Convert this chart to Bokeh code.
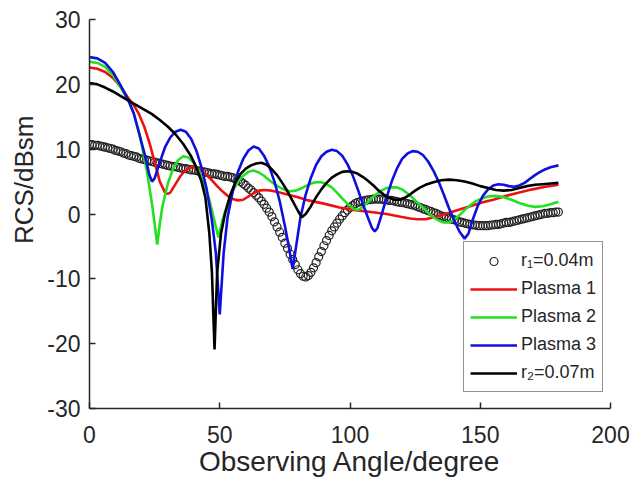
from bokeh.plotting import figure
from bokeh.models import Range1d, FixedTicker, Legend, LegendItem, Title
from bokeh.embed import file_html
from bokeh.resources import INLINE

# ---- data ----
x_r1 = list(range(0, 181))
y_r1 = [10.7, 10.7, 10.6, 10.6, 10.5, 10.4, 10.3, 10.2, 10.1, 10.0, 9.8,
        9.7, 9.6, 9.4, 9.3, 9.1, 9.0, 8.9, 8.8, 8.6, 8.5,
        8.4, 8.3, 8.2, 8.1, 8.0, 7.9, 7.8, 7.7, 7.6, 7.5,
        7.4, 7.3, 7.3, 7.2, 7.1, 7.0, 7.0, 6.9, 6.8, 6.8,
        6.7, 6.6, 6.5, 6.5, 6.4, 6.3, 6.2, 6.2, 6.1, 6.0,
        5.9, 5.8, 5.8, 5.7, 5.6, 5.4, 5.2, 5.0, 4.7, 4.4,
        4.0, 3.7, 3.3, 2.9, 2.5, 2.0, 1.5, 0.9, 0.3, -0.4,
        -1.2, -2.0, -2.8, -3.6, -4.5, -5.3, -6.2, -7.0, -7.8, -8.6,
        -9.2, -9.6, -9.7, -9.5, -9.0, -8.3, -7.5, -6.6, -5.8, -4.9,
        -4.1, -3.3, -2.6, -2.0, -1.4, -0.8, -0.3, 0.2, 0.6, 1.0,
        1.3, 1.6, 1.8, 1.9, 2.0, 2.1, 2.2, 2.2, 2.3, 2.3,
        2.3, 2.3, 2.2, 2.2, 2.1, 2.1, 2.0, 1.9, 1.8, 1.8,
        1.7, 1.6, 1.5, 1.4, 1.3, 1.1, 1.0, 0.8, 0.7, 0.5,
        0.4, 0.2, 0.1, -0.1, -0.3, -0.4, -0.5, -0.7, -0.8, -0.9,
        -1.0, -1.2, -1.3, -1.4, -1.5, -1.6, -1.7, -1.7, -1.8, -1.8,
        -1.8, -1.8, -1.8, -1.7, -1.7, -1.6, -1.6, -1.5, -1.4, -1.3,
        -1.3, -1.2, -1.1, -1.0, -0.9, -0.8, -0.7, -0.6, -0.5, -0.4,
        -0.3, -0.2, -0.1, 0.0, 0.1, 0.1, 0.2, 0.2, 0.3, 0.3]

x_p1 = [0, 3, 6, 9, 12, 15, 17, 19, 21, 23, 25, 27, 29, 30, 31, 33, 35, 37, 39, 41,
        43, 45, 47, 49, 51, 53, 55, 57, 59, 61, 63, 65, 67, 70, 73, 76, 80, 84, 90, 96,
        102, 108, 114, 119, 123, 126, 129, 132, 135, 139, 143, 147, 151, 155, 160, 165,
        170, 175, 180]
y_p1 = [22.6, 22.4, 21.9, 21.0, 19.6, 17.8, 16.8, 15.4, 13.5, 11.0, 8.0, 5.0, 3.3, 3.1,
        3.3, 4.6, 5.9, 6.8, 7.2, 7.1, 6.7, 6.0, 5.2, 4.3, 3.5, 2.8, 2.3, 2.1, 2.2, 2.7,
        3.2, 3.6, 3.7, 3.6, 3.3, 3.0, 2.6, 2.1, 1.6, 1.0, 0.6, 0.3, 0.0, -0.4, -0.7, -0.8,
        -0.8, -0.5, -0.2, 0.3, 0.8, 1.3, 1.8, 2.2, 2.8, 3.3, 3.8, 4.2, 4.5]

x_p2 = [0, 3, 6, 9, 12, 15, 17, 19, 21, 22.5, 24, 25, 26, 27, 28, 30, 32, 34, 36, 38,
        40, 42, 44, 46, 47.5, 49.5, 51, 53, 55, 57, 59, 61, 63, 65, 67, 69, 71, 73, 75,
        77, 79, 81, 83, 85, 87, 89, 91, 93, 95, 97, 99, 101, 102.5, 104, 106, 108, 110,
        112, 114, 116, 118, 120, 122, 124, 126, 128, 130, 132, 134, 136, 138, 140, 142,
        144, 146, 148, 150, 153, 156, 159, 162, 165, 168, 171, 174, 177, 180]
y_p2 = [23.5, 23.3, 22.7, 21.4, 19.5, 17.4, 15.5, 12.6, 8.8, 5.5, 1.5, -1.5, -4.7, -1.5,
        1.2, 4.6, 6.9, 8.3, 8.9, 8.7, 7.9, 6.6, 4.6, 2.2, -0.3, -3.6, -1.0, 1.6, 3.6, 5.0,
        5.9, 6.5, 6.7, 6.4, 5.9, 5.2, 4.6, 4.1, 3.7, 3.5, 3.6, 3.9, 4.3, 4.7, 4.9, 4.9,
        4.6, 4.1, 3.3, 2.4, 1.6, 0.9, 0.6, 0.8, 1.5, 2.3, 3.0, 3.6, 4.0, 4.1, 4.1, 3.8,
        3.2, 2.5, 1.7, 1.0, 0.2, -0.5, -1.0, -1.3, -1.3, -0.9, -0.2, 0.6, 1.3, 1.9, 2.3,
        2.7, 2.8, 2.6, 2.2, 1.7, 1.3, 1.1, 1.2, 1.5, 1.9]

x_p3 = [0, 3, 6, 9, 12, 15, 17, 19, 21, 23, 24, 25, 27, 29, 31, 33, 35, 37, 39, 41, 43,
        45, 47, 48.5, 50, 51.5, 53, 55, 57, 59, 61, 63, 65, 67, 69, 71, 73, 75, 76.5, 78,
        79.5, 81, 83, 85, 87, 89, 91, 93, 95, 97, 99, 101, 103, 105, 107, 108.5, 109.5,
        110.5, 112, 114, 116, 118, 120, 122, 124, 126, 128, 130, 132, 134, 136, 138, 140,
        142, 144, 145.5, 147, 149, 151, 153, 155, 157, 159, 161, 163, 165, 167, 169, 171,
        173, 175, 177, 180]
y_p3 = [24.2, 24.0, 23.3, 21.9, 19.8, 17.5, 15.5, 12.5, 9.5, 6.0, 5.0, 5.5, 8.0, 10.3,
        11.8, 12.7, 13.0, 12.7, 11.6, 9.8, 7.2, 3.8, -1.0, -6.0, -15.5, -6.0, -0.5, 3.5,
        6.5, 8.5, 9.8, 10.4, 10.1, 9.0, 7.3, 5.0, 2.0, -1.8, -5.0, -8.5, -4.5, -0.5, 3.0,
        5.6, 7.6, 8.9, 9.6, 9.9, 9.7, 9.0, 7.7, 6.0, 3.8, 1.5, -0.7, -2.2, -2.7, -2.2,
        -0.3, 2.5, 5.0, 7.0, 8.5, 9.3, 9.7, 9.6, 9.1, 8.1, 6.7, 5.0, 3.0, 0.9, -1.0, -2.7,
        -3.8, -3.0, -1.0, 1.2, 2.8, 3.8, 4.4, 4.6, 4.5, 4.3, 4.2, 4.4, 4.8, 5.4, 6.0, 6.5,
        6.9, 7.2, 7.5]

x_r2 = [0, 3, 6, 9, 12, 15, 18, 21, 24, 27, 30, 33, 36, 39, 41, 43, 44.5, 46, 47, 48,
        49, 50.5, 52, 54, 56, 58, 60, 62, 64, 66, 68, 70, 72, 74, 76, 78, 80, 81.5, 83,
        85, 87, 89, 91, 93, 95, 97, 99, 101, 103, 105, 107, 109, 111, 113, 115, 117, 119,
        121, 123, 125, 127, 129, 132, 135, 138, 141, 144, 147, 150, 153, 156, 159, 162,
        165, 168, 171, 174, 177, 180]
y_r2 = [20.2, 20.0, 19.5, 18.9, 18.2, 17.5, 16.8, 16.1, 15.4, 14.5, 13.5, 12.3, 10.8,
        8.9, 7.2, 5.0, 2.5, -3.0, -9.0, -20.9, -9.0, -3.0, 0.0, 2.9, 4.9, 6.2, 7.0, 7.5,
        7.8, 7.9, 7.6, 6.9, 6.0, 4.8, 3.5, 2.0, 0.5, -0.5, 0.0, 1.2, 2.6, 3.8, 4.8, 5.6,
        6.1, 6.5, 6.6, 6.5, 6.2, 5.7, 5.1, 4.4, 3.6, 3.0, 2.5, 2.2, 2.2, 2.5, 3.0, 3.6,
        4.1, 4.5, 4.9, 5.2, 5.3, 5.2, 5.0, 4.7, 4.3, 4.0, 3.7, 3.6, 3.7, 4.0, 4.3, 4.5,
        4.6, 4.7, 4.8]

x_ticks = [0, 50, 100, 150, 200]
y_ticks = [-30, -20, -10, 0, 10, 20, 30]
y_tick_text = {t: str(t) for t in y_ticks}
labels = ["r\u2081=0.04m", "Plasma 1", "Plasma 2", "Plasma 3", "r\u2082=0.07m"]
x_title = "Observing Angle/degree"
y_title = "RCS/dBsm"

FONT = "Liberation Sans"
TXT = "#262626"

p = figure(width=635, height=483, x_range=Range1d(0, 200), y_range=Range1d(-30, 30),
           output_backend="svg", toolbar_location=None,
           min_border_left=89, min_border_right=25, min_border_top=19, min_border_bottom=75)
p.outline_line_color = None
p.grid.visible = False
p.background_fill_color = "white"
p.border_fill_color = "white"

for ax, ticks in ((p.xaxis[0], x_ticks), (p.yaxis[0], y_ticks)):
    ax.ticker = FixedTicker(ticks=ticks)
    ax.axis_line_color = TXT
    ax.axis_line_width = 1.5
    ax.major_tick_line_color = TXT
    ax.major_tick_line_width = 1.5
    ax.major_tick_in = 6
    ax.major_tick_out = 0
    ax.minor_tick_line_color = None
    ax.major_label_text_font = FONT
    ax.major_label_text_font_size = "23px"
    ax.major_label_text_color = TXT

p.yaxis.major_label_overrides = y_tick_text
p.xaxis.major_label_standoff = 17
p.yaxis.major_label_standoff = 9

p.xaxis.axis_label = x_title
p.xaxis.axis_label_text_font = FONT
p.xaxis.axis_label_text_font_size = "28px"
p.xaxis.axis_label_text_font_style = "normal"
p.xaxis.axis_label_text_color = TXT
p.xaxis.axis_label_standoff = 0

p.add_layout(Title(text=y_title, align="right", offset=96, text_font=FONT,
                   text_font_size="26px", text_font_style="normal", text_color=TXT,
                   standoff=11), "left")

r0 = p.scatter(x_r1, y_r1, marker="circle", size=8, fill_color=None,
               line_color="#222222", line_width=1.2)
r1 = p.line(x_p1, y_p1, line_color="#ee1111", line_width=2.6)
r2 = p.line(x_p2, y_p2, line_color="#22e022", line_width=2.6)
r3 = p.line(x_p3, y_p3, line_color="#1010dd", line_width=2.6)
r4 = p.line(x_r2, y_r2, line_color="#000000", line_width=2.6)

legend = Legend(items=[LegendItem(label=labels[i], renderers=[r]) for i, r in
                       enumerate([r0, r1, r2, r3, r4])],
                location=(374, 16))
legend.label_text_font = FONT
legend.label_text_font_size = "18px"
legend.label_text_color = TXT
legend.glyph_width = 47
legend.glyph_height = 20
legend.label_standoff = 4
legend.label_height = 25
legend.padding = 6
legend.spacing = 3
legend.margin = 0
legend.border_line_color = TXT
legend.border_line_width = 1.5
legend.background_fill_alpha = 1
p.add_layout(legend)

open("out.html", "w").write(file_html(p, INLINE))
